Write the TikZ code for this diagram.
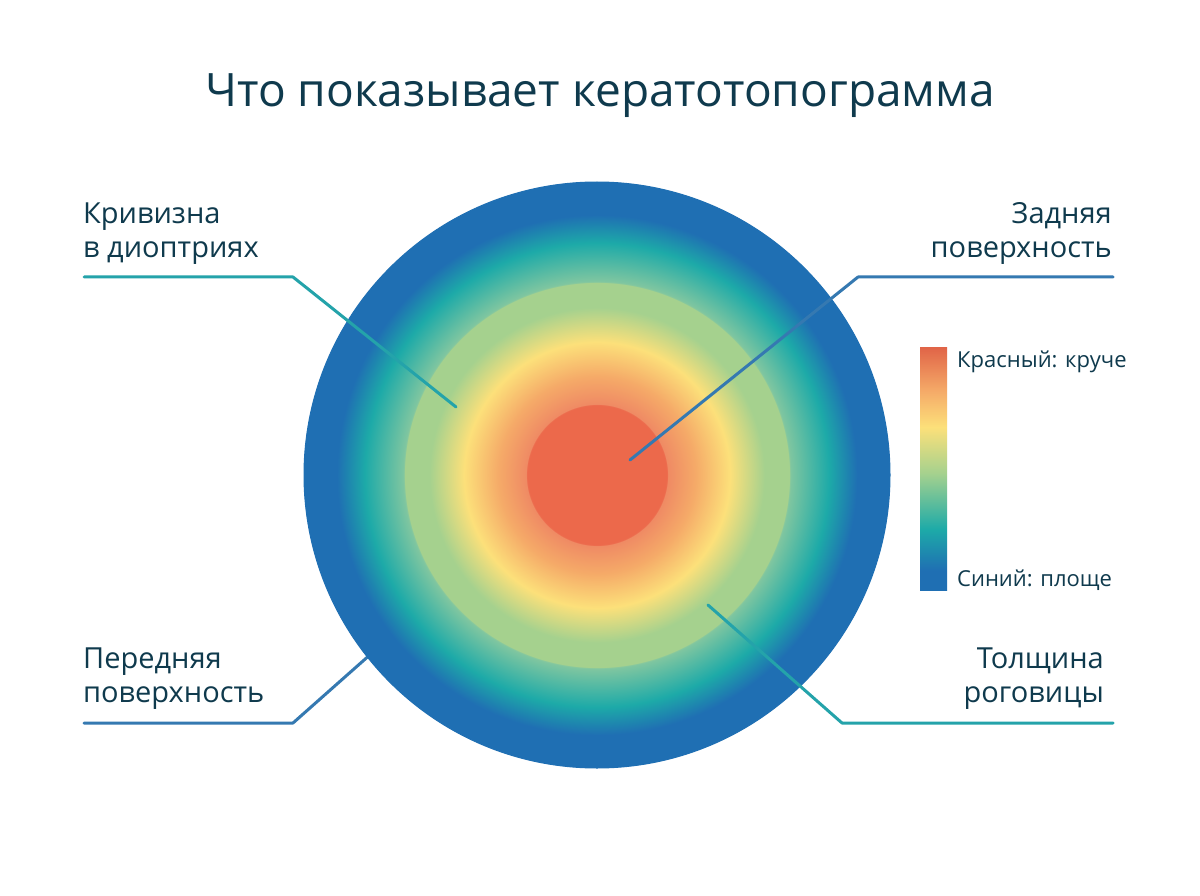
\documentclass[tikz,border=0pt]{standalone}
\usepackage{fontspec}
\setmainfont{Open Sans}
\usetikzlibrary{positioning}

\definecolor{c_text}{HTML}{0F3A4D}
\definecolor{c_red}{HTML}{EC694B}
\definecolor{c_salmon}{HTML}{EF8A64}
\definecolor{c_orange}{HTML}{F5AA68}
\definecolor{c_yellow}{HTML}{FCE07A}
\definecolor{c_green}{HTML}{A5D18E}
\definecolor{c_mint}{HTML}{80C6A0}
\definecolor{c_teal}{HTML}{1DAAA8}
\definecolor{c_blue}{HTML}{1F6FB3}
\definecolor{c_line_teal}{HTML}{24A3AA}
\definecolor{c_line_blue}{HTML}{3579B1}

% Topography rings
\pgfdeclareradialshading{topo_rings}{\pgfpoint{0bp}{0bp}}{%
  color(0bp)=(c_red); color(5.97bp)=(c_red); color(6.03bp)=(c_salmon);
  color(8.4bp)=(c_orange); color(11.35bp)=(c_yellow);
  color(14.3bp)=(c_green); color(16.4bp)=(c_green); color(16.5bp)=(c_mint);
  color(19.8bp)=(c_teal); color(22.2bp)=(c_blue); color(25bp)=(c_blue);
  color(50bp)=(c_blue)}
% Colour scale
\pgfdeclareverticalshading{topo_scale}{100bp}{%
  color(0bp)=(c_blue); color(29bp)=(c_blue); color(37.5bp)=(c_teal);
  color(49bp)=(c_green); color(58.5bp)=(c_yellow); color(66bp)=(c_orange);
  color(75bp)=(c_red!95!black); color(100bp)=(c_red)}

\tikzset{
        % Side labels
        label_left/.style={anchor=base west, align=left, inner sep=0pt, text=c_text,
                font={\fontsize{29}{34}\selectfont}},
        label_right/.style={anchor=base east, align=right, inner sep=0pt, text=c_text,
                font={\fontsize{29}{34}\selectfont}},
        % Scale labels
        label_scale/.style={anchor=base west, inner sep=0pt, text=c_text,
                font={\fontsize{22}{26}\selectfont}},
        % Pointer lines
        line_teal/.style={draw=c_line_teal, line width=3pt, line cap=round, line join=round},
        line_blue/.style={draw=c_line_blue, line width=3pt, line cap=round, line join=round}
}

\begin{document}
\begin{tikzpicture}[x=1pt, y=-1pt]
    \useasboundingbox[fill=white] (0,0) rectangle (1200,896);

    \node[text=c_text, font={\fontsize{46}{56}\selectfont}, inner sep=0pt, anchor=base]
        (title) at (600,107) {Что показывает кератотопограмма};

    % lower left pointer sits under the disc
    \coordinate (front_start) at (84,723);
    \coordinate (front_bend) at (293,723);
    \coordinate (front_tip) at (372,653);
    \draw[line_blue] (front_start) -- (front_bend) -- (front_tip);

    \shade[shading=topo_rings] (597,475) circle (293);
    \node[inner sep=0pt, minimum size=586pt, circle, draw=c_blue, line width=1pt]
        (disc) at (597,475) {};

    % base anchor = last line
    \node[label_left] (curv) at (83,258) {Кривизна\\в диоптриях};
    \node[label_right] (back) at (1112,258) {Задняя\\поверхность};
    \node[label_left] (front) at (83,702) {Передняя\\поверхность};
    \node[label_right] (thick) at (1104,702) {Толщина\\роговицы};

    \coordinate (curv_start) at (84,277);
    \coordinate (curv_bend) at (293,277);
    \coordinate (curv_tip) at (456,407);
    \draw[line_teal] (curv_start) -- (curv_bend) -- (curv_tip);

    \coordinate (back_start) at (1113,277);
    \coordinate (back_bend) at (858,277);
    \coordinate (back_tip) at (630,460);
    \draw[line_blue] (back_start) -- (back_bend) -- (back_tip);

    \coordinate (thick_start) at (1113,723);
    \coordinate (thick_bend) at (842,723);
    \coordinate (thick_tip) at (708,605);
    \draw[line_teal] (thick_start) -- (thick_bend) -- (thick_tip);

    \shade[shading=topo_scale] (920,347) rectangle (947,590);
    \node[inner sep=0pt, minimum width=27pt, minimum height=243pt, anchor=north west]
        (scale) at (920,347) {};
    \node[label_scale] (steep) at (957,367) {Красный: круче};
    \node[label_scale] (flat) at (957,586) {Синий: площе};
\end{tikzpicture}
\end{document}
